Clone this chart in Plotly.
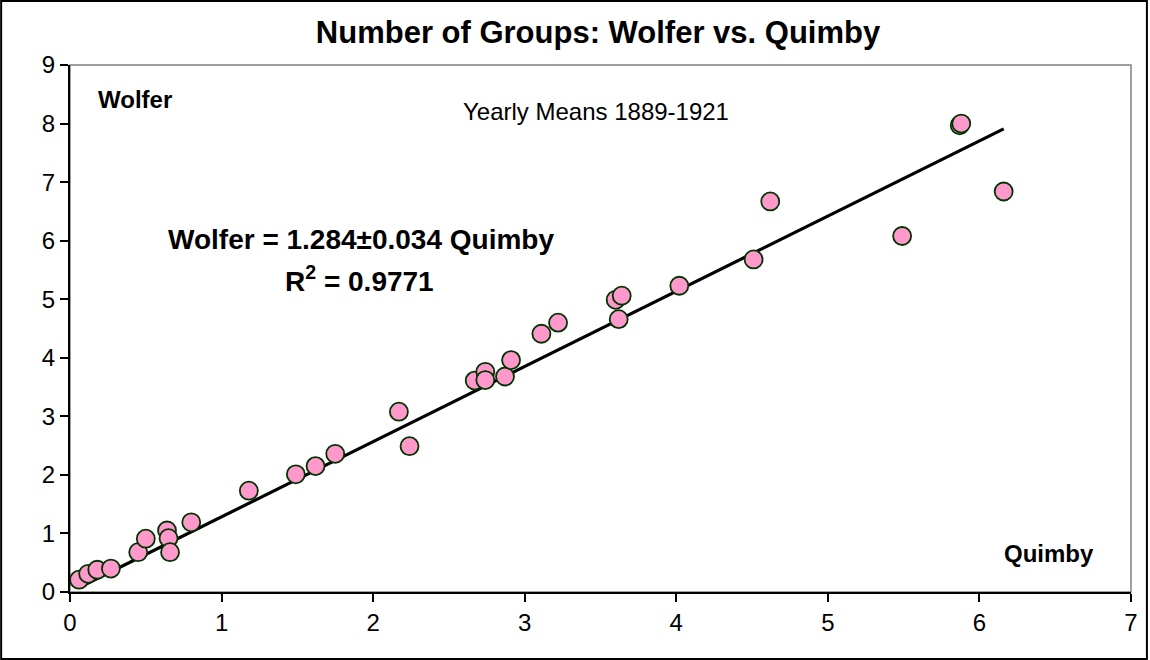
import plotly.graph_objects as go

# yearly means 1889-1921
quimby = [0.06, 0.12, 0.18, 0.27, 0.45, 0.50, 0.64, 0.65, 0.66, 0.80,
          1.18, 1.49, 1.62, 1.75, 2.17, 2.24, 2.67, 2.74, 2.74, 2.87,
          2.91, 3.11, 3.22, 3.60, 3.62, 3.64, 4.02, 4.51, 4.62, 5.49,
          5.87, 5.88, 6.16]
wolfer = [0.21, 0.31, 0.38, 0.40, 0.68, 0.91, 1.05, 0.92, 0.68, 1.19,
          1.73, 2.01, 2.15, 2.36, 3.08, 2.49, 3.61, 3.76, 3.62, 3.68,
          3.96, 4.41, 4.60, 4.99, 4.66, 5.06, 5.23, 5.68, 6.67, 6.08,
          7.97, 8.00, 6.84]
slope = 1.284
fit_x = [min(quimby), max(quimby)]
fit_y = [slope * v for v in fit_x]

font = "Liberation Sans, Arial, sans-serif"

fig = go.Figure()
fig.add_trace(go.Scatter(x=fit_x, y=fit_y, mode="lines",
                         line=dict(color="black", width=3.2), showlegend=False))
fig.add_trace(go.Scatter(x=quimby, y=wolfer, mode="markers",
                         marker=dict(size=18, color="#FF99CC",
                                     line=dict(color="#003300", width=1.8)),
                         showlegend=False))

fig.update_layout(
    width=1150, height=660,
    margin=dict(l=70, r=17, t=65, b=68),
    plot_bgcolor="white", paper_bgcolor="white",
    font=dict(family=font, size=24, color="black"),
    title=dict(text="<b>Number of Groups: Wolfer vs. Quimby</b>",
               x=0.52, xanchor="center", y=1 - 32 / 660, yanchor="middle",
               font=dict(size=31)),
    shapes=[
        dict(type="rect", xref="paper", yref="paper", x0=0, y0=0, x1=1, y1=1,
             line=dict(color="#808080", width=1.5), layer="below"),
        dict(type="rect", xref="paper", yref="paper", x0=-0.0649, y0=-0.127,
             x1=1.015, y1=1.1214, line=dict(color="black", width=2)),
    ],
    annotations=[
        dict(text="<b>Wolfer</b>", x=0.0245, y=0.934, xref="paper", yref="paper",
             xanchor="left", yanchor="middle", showarrow=False, font=dict(size=24)),
        dict(text="<b>Quimby</b>", x=0.967, y=0.074, xref="paper", yref="paper",
             xanchor="right", yanchor="middle", showarrow=False, font=dict(size=24)),
        dict(text="Yearly Means 1889-1921", x=0.496, y=0.911, xref="paper", yref="paper",
             xanchor="center", yanchor="middle", showarrow=False, font=dict(size=24)),
        dict(text="<b>Wolfer = 1.284±0.034 Quimby</b>", x=0.274, y=0.668,
             xref="paper", yref="paper", xanchor="center", yanchor="middle",
             showarrow=False, font=dict(size=28)),
        dict(text="<b>R<sup>2</sup> = 0.9771</b>", x=0.273, y=0.594,
             xref="paper", yref="paper", xanchor="center", yanchor="middle",
             showarrow=False, font=dict(size=28)),
    ],
)
fig.update_xaxes(range=[0, 7], dtick=1, showgrid=False, zeroline=False,
                 showline=True, linecolor="black", linewidth=2,
                 ticks="outside", ticklen=8, tickwidth=1.5, tickcolor="black")
fig.update_yaxes(range=[0, 9], dtick=1, showgrid=False, zeroline=False,
                 showline=True, linecolor="black", linewidth=2,
                 ticks="outside", ticklen=8, tickwidth=1.5, tickcolor="black")

fig.write_html("out.html", config={"displayModeBar": False},
               post_script="document.body.style.margin='0';")
